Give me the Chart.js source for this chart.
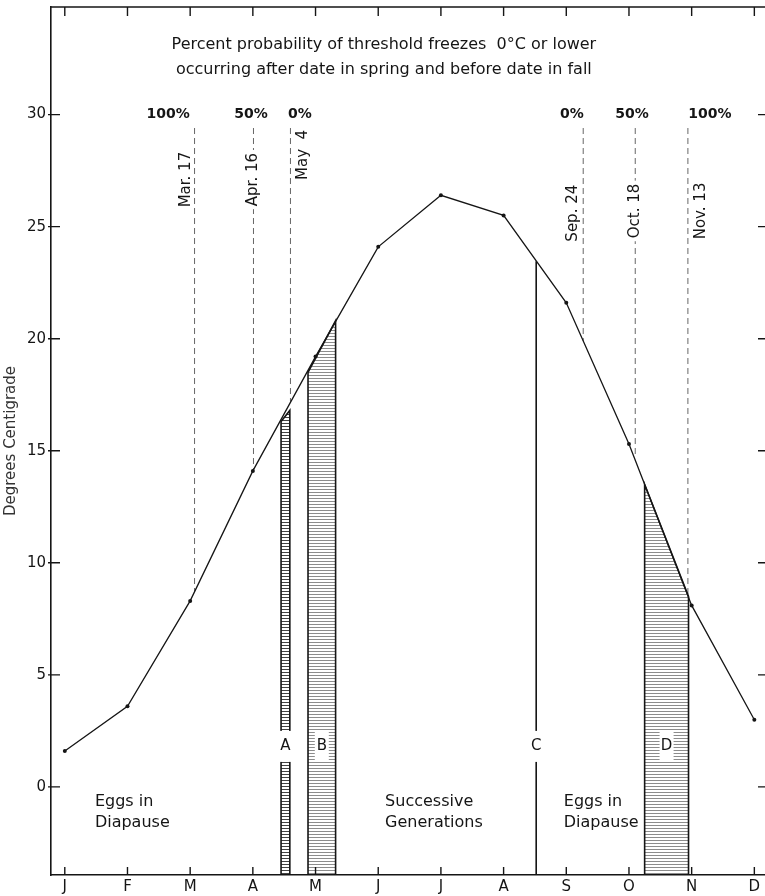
<!DOCTYPE html>
<html>
<head>
<meta charset="utf-8">
<title>Threshold freezes</title>
<script src="https://cdn.jsdelivr.net/npm/chart.js@4.4.1/dist/chart.umd.min.js"></script>
<style>
  html, body { margin: 0; padding: 0; background: #fff; }
  #chart { display: block; }
</style>
</head>
<body>
<canvas id="chart" width="765" height="896"></canvas>
<script>
// months on the x axis (0 = mid January)
const months = ['J', 'F', 'M', 'A', 'M', 'J', 'J', 'A', 'S', 'O', 'N', 'D'];
const meanTemps = [1.6, 3.6, 8.3, 14.1, 19.2, 24.1, 26.4, 25.5, 21.6, 15.3, 8.1, 3.0];
const yTicks = [0, 5, 10, 15, 20, 25, 30];

// freeze dates (month position) and where each dashed line meets the curve
const freezeDates = [2.07, 3.01, 3.60, 8.27, 9.10, 9.94];
const freezeNames = ['Mar. 17', 'Apr. 16', 'May  4', 'Sep. 24', 'Oct. 18', 'Nov. 13'];
const freezeLow = [8.7, 14.1, 17.2, 19.9, 14.8, 8.5];
const freezePct = ['100%', '50%', '0%', '0%', '50%', '100%'];
const freezeTop = 29.4;

// shaded periods A, B, D and the line C
const shadeNames = ['A', 'B', 'D'];
const shadeFrom = [3.45, 3.88, 9.25];
const shadeTo = [3.59, 4.32, 9.95];
const shadeTopFrom = [16.3, 18.5, 13.5];
const shadeTopTo = [16.8, 20.8, 8.5];
const lineC = 7.52;
const lineCTop = 23.45;

const xMin = -0.22, xMax = 11.17;
const yMin = -3.93, yMax = 34.8;

const ink = '#151515';
const fontName = '"DejaVu Sans", sans-serif';

// where the texts go (data units), kept apart from the data
const layout = {
  title: [{ t: 'Percent probability of threshold freezes  0\u00B0C or lower', x: 5.09, y: 33.1 },
          { t: 'occurring after date in spring and before date in fall', x: 5.09, y: 32.0 }],
  pctX: [1.65, 2.97, 3.75, 8.09, 9.05, 10.29],
  pctY: 30,
  dateShift: [-8, 0, 13, -10, 0, 13],   // px from the dashed line
  dateBox: [false, true, false, false, true, false],
  dateY: [27.1, 27.1, 28.2, 25.6, 25.7, 25.7],
  letterY: 1.83,
  groups: [{ t: ['Eggs in', 'Diapause'], x: 0.48 },
           { t: ['Successive', 'Generations'], x: 5.11 },
           { t: ['Eggs in', 'Diapause'], x: 7.96 }],
  groupY: [-0.67, -1.6]
};

const ctx = document.getElementById('chart').getContext('2d');

// Function: horizontal hatching used inside the shaded periods
function makeHatch(color, gap) {
  const c = document.createElement('canvas');
  c.width = 4; c.height = gap;
  const g = c.getContext('2d');
  g.fillStyle = color;
  g.fillRect(0, 0, 4, 1);
  return ctx.createPattern(c, 'repeat');
}

const datasets = [];

// temperature curve
datasets.push({
  data: meanTemps.map((v, i) => ({ x: i, y: v })),
  borderColor: ink,
  borderWidth: 1.3,
  pointRadius: 2,
  pointBackgroundColor: ink,
  pointBorderWidth: 0,
  fill: false,
  order: 0
});

// dashed freeze-date lines
freezeDates.forEach((d, i) => {
  datasets.push({
    data: [{ x: d, y: freezeTop }, { x: d, y: freezeLow[i] }],
    borderColor: '#666',
    borderWidth: 1,
    borderDash: [6, 4],
    pointRadius: 0,
    fill: false,
    order: 3
  });
});

// shaded periods
shadeNames.forEach((n, i) => {
  datasets.push({
    data: [{ x: shadeFrom[i], y: yMin }, { x: shadeFrom[i], y: shadeTopFrom[i] },
           { x: shadeTo[i], y: shadeTopTo[i] }, { x: shadeTo[i], y: yMin }],
    borderColor: ink,
    borderWidth: 1.6,
    pointRadius: 0,
    backgroundColor: n === 'A' ? makeHatch('#444', 3) : makeHatch('#8c8c8c', 3),
    fill: { value: yMin },
    order: 2
  });
});

// line C
datasets.push({
  data: [{ x: lineC, y: yMin }, { x: lineC, y: lineCTop }],
  borderColor: ink,
  borderWidth: 1.6,
  pointRadius: 0,
  fill: false,
  order: 2
});

// Function: top frame line and tick marks on all four sides
const frameTicks = {
  id: 'frameTicks',
  afterDraw(chart) {
    const { ctx, chartArea: a, scales: { x, y } } = chart;
    ctx.save();
    ctx.strokeStyle = ink;
    ctx.lineWidth = 1.6;
    ctx.beginPath();
    ctx.moveTo(a.left, a.top); ctx.lineTo(a.right, a.top);
    ctx.stroke();
    ctx.lineWidth = 1.4;
    ctx.beginPath();
    months.forEach((m, i) => {
      const px = x.getPixelForValue(i);
      ctx.moveTo(px, a.bottom); ctx.lineTo(px, a.bottom - 8);
      ctx.moveTo(px, a.top); ctx.lineTo(px, a.top + 9);
    });
    yTicks.forEach(v => {
      const py = y.getPixelForValue(v);
      ctx.moveTo(a.left - 3, py); ctx.lineTo(a.left + 9, py);
      ctx.moveTo(a.right - 7, py); ctx.lineTo(a.right, py);
    });
    ctx.stroke();
    ctx.restore();
  }
};

// Function: all the notes written inside the frame
const notes = {
  id: 'notes',
  afterDatasetsDraw(chart) {
    const { ctx, scales: { x, y } } = chart;
    ctx.save();
    ctx.fillStyle = ink;
    ctx.textBaseline = 'middle';

    // title
    ctx.font = '16px ' + fontName;
    ctx.textAlign = 'center';
    layout.title.forEach(l => ctx.fillText(l.t, x.getPixelForValue(l.x), y.getPixelForValue(l.y)));

    // percent row
    ctx.font = 'bold 14px ' + fontName;
    freezePct.forEach((p, i) => ctx.fillText(p, x.getPixelForValue(layout.pctX[i]), y.getPixelForValue(layout.pctY)));

    // dates, rotated
    ctx.font = '15px ' + fontName;
    freezeNames.forEach((n, i) => {
      const px = x.getPixelForValue(freezeDates[i]) + layout.dateShift[i];
      const py = y.getPixelForValue(layout.dateY[i]);
      ctx.save();
      ctx.translate(px, py);
      ctx.rotate(-Math.PI / 2);
      if (layout.dateBox[i]) {
        const w = ctx.measureText(n).width;
        ctx.fillStyle = '#fff';
        ctx.fillRect(-w / 2 - 3, -7, w + 6, 14);
        ctx.fillStyle = ink;
      }
      ctx.fillText(n, 0, 0);
      ctx.restore();
    });

    // letters A B C D on white boxes
    ctx.font = '15px ' + fontName;
    const letters = shadeNames.map((n, i) => ({ t: n, x: (shadeFrom[i] + shadeTo[i]) / 2 }));
    letters.splice(2, 0, { t: 'C', x: lineC });
    letters.forEach(l => {
      const px = x.getPixelForValue(l.x);
      const py = y.getPixelForValue(layout.letterY);
      ctx.fillStyle = '#fff';
      ctx.fillRect(px - 7, py - 15, 14, 31);
      ctx.fillStyle = ink;
      ctx.fillText(l.t, px, py);
    });

    // group labels near the bottom
    ctx.textAlign = 'left';
    ctx.font = '16px ' + fontName;
    layout.groups.forEach(g => {
      g.t.forEach((t, k) => ctx.fillText(t, x.getPixelForValue(g.x), y.getPixelForValue(layout.groupY[k])));
    });
    ctx.restore();
  }
};

new Chart(ctx, {
  type: 'line',
  data: { datasets: datasets },
  options: {
    responsive: false,
    animation: false,
    layout: { autoPadding: false, padding: { top: 7, left: 0, right: 0, bottom: 0 } },
    plugins: { legend: { display: false }, tooltip: { enabled: false } },
    scales: {
      x: {
        type: 'linear',
        min: xMin, max: xMax,
        afterBuildTicks: s => { s.ticks = months.map((m, i) => ({ value: i })); },
        afterFit: s => { s.height = 21; s.paddingLeft = 0; s.paddingRight = 0; },
        ticks: {
          autoSkip: false, maxRotation: 0, padding: 3, color: ink,
          font: { family: fontName, size: 15 },
          callback: v => months[v]
        },
        grid: { display: false, drawTicks: false },
        border: { display: true, color: ink, width: 1.6 }
      },
      y: {
        min: yMin, max: yMax,
        afterBuildTicks: s => { s.ticks = yTicks.map(v => ({ value: v })); },
        afterFit: s => { s.width = 51; s.paddingTop = 0; s.paddingBottom = 0; },
        ticks: { padding: 5, color: ink, font: { family: fontName, size: 15 } },
        grid: { display: false, drawTicks: false },
        border: { display: true, color: ink, width: 1.6 },
        title: {
          display: true, text: 'Degrees Centigrade', color: '#333',
          font: { family: fontName, size: 15 }, padding: { top: 2, bottom: 0 }
        }
      }
    }
  },
  plugins: [frameTicks, notes]
});
</script>
</body>
</html>
